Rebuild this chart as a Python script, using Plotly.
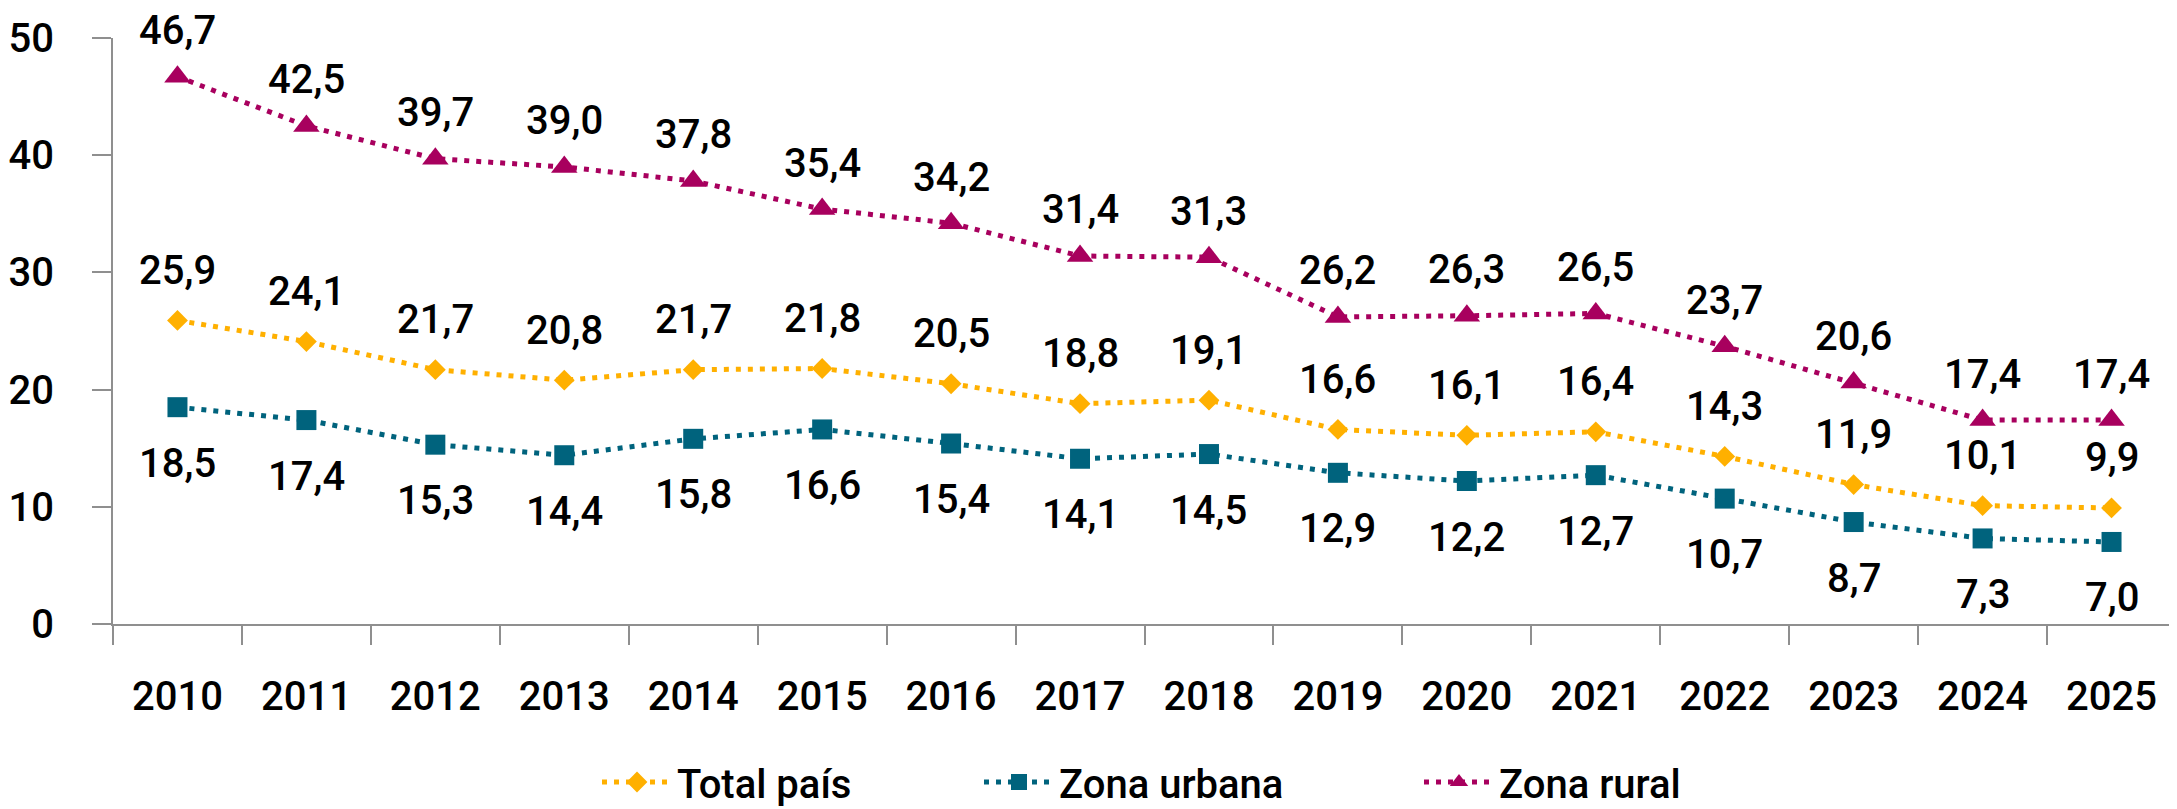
import plotly.graph_objects as go

years = [str(y) for y in range(2010, 2026)]
total_pais = [25.9, 24.1, 21.7, 20.8, 21.7, 21.8, 20.5, 18.8, 19.1, 16.6, 16.1, 16.4, 14.3, 11.9, 10.1, 9.9]
zona_urbana = [18.5, 17.4, 15.3, 14.4, 15.8, 16.6, 15.4, 14.1, 14.5, 12.9, 12.2, 12.7, 10.7, 8.7, 7.3, 7.0]
zona_rural = [46.7, 42.5, 39.7, 39.0, 37.8, 35.4, 34.2, 31.4, 31.3, 26.2, 26.3, 26.5, 23.7, 20.6, 17.4, 17.4]
y_ticks = [0, 10, 20, 30, 40, 50]

FONT = "Roboto, Liberation Sans, sans-serif"
FSIZE = 40
WEIGHT = 500
AXIS_GREY = "#8f8f8f"
# page body keeps an 8px margin, so the figure is 8px smaller than the window
W, H = 2169, 801

series = [
    ("Total país", total_pais, "#FFB000", "diamond", 16, 50, "legend"),
    ("Zona urbana", zona_urbana, "#00637D", "square", 20, -56, "legend2"),
    ("Zona rural", zona_rural, "#A8005E", "triangle-up", 23, 46, "legend3"),
]


def fmt(v):
    return f"{v:.1f}".replace(".", ",")


def txt(size=FSIZE):
    return dict(family=FONT, size=size, color="black", weight=WEIGHT)


fig = go.Figure()
annotations = []
for name, vals, color, symbol, size, shift, leg in series:
    fig.add_trace(
        go.Scatter(
            x=years,
            y=vals,
            name=name,
            mode="lines+markers",
            line=dict(color=color, width=5, dash="5px,7px"),
            marker=dict(symbol=symbol, size=size, color=color),
            cliponaxis=False,
            legend=leg,
            showlegend=True,
        )
    )
    # category axis: annotations are placed by category index
    for i, v in enumerate(vals):
        annotations.append(
            dict(
                x=i,
                y=v,
                xref="x",
                yref="y",
                text=fmt(v),
                showarrow=False,
                yshift=shift,
                font=txt(),
            )
        )

legend_base = dict(
    orientation="h",
    xref="container",
    yref="container",
    xanchor="left",
    yanchor="middle",
    y=1 - 774 / H,
    itemwidth=70,
    bgcolor="rgba(0,0,0,0)",
    font=txt(),
)

fig.update_layout(
    width=W,
    height=H,
    margin=dict(l=99, r=1, t=30, b=185),
    plot_bgcolor="white",
    paper_bgcolor="white",
    showlegend=True,
    font=txt(),
    annotations=annotations,
    legend=dict(legend_base, x=589 / W),
    legend2=dict(legend_base, x=971 / W),
    legend3=dict(legend_base, x=1411 / W),
    xaxis=dict(
        type="category",
        range=[-0.5, len(years) - 0.5],
        tickson="boundaries",
        ticks="outside",
        ticklen=19,
        tickwidth=2,
        tickcolor=AXIS_GREY,
        showline=True,
        linecolor=AXIS_GREY,
        linewidth=2,
        showgrid=False,
        tickangle=0,
        ticklabelstandoff=36,
        tickfont=txt(),
    ),
    yaxis=dict(
        range=[0, 50],
        tickvals=y_ticks,
        ticks="outside",
        ticklen=19,
        tickwidth=2,
        tickcolor=AXIS_GREY,
        showline=True,
        linecolor=AXIS_GREY,
        linewidth=2,
        showgrid=False,
        zeroline=False,
        ticklabelstandoff=30,
        tickfont=txt(),
    ),
)

fig.write_html("out.html")
